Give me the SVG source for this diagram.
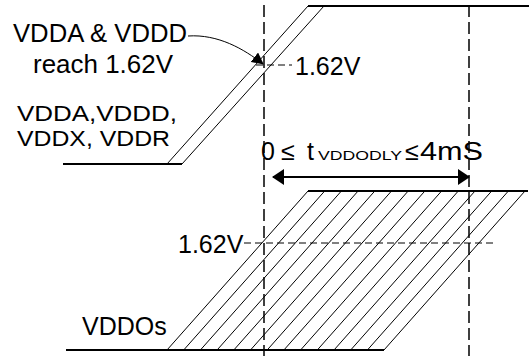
<svg xmlns="http://www.w3.org/2000/svg" width="529" height="356" viewBox="0 0 529 356">
  <style>
    .t { font-family: "Liberation Sans", Arial, sans-serif; font-size: 25px; fill: #000; }
    .t2 { font-family: "Liberation Sans", Arial, sans-serif; font-size: 22.5px; fill: #000; }
    .sub { font-family: "Liberation Sans", Arial, sans-serif; font-size: 13px; fill: #000; }
    .thin { stroke: #000; stroke-width: 1; fill: none; }
    .thick { stroke: #000; stroke-width: 2; fill: none; }
    .vdash { stroke: #000; stroke-width: 1.5; stroke-dasharray: 12 5; fill: none; }
    .hdash { stroke: #000; stroke-width: 1; stroke-dasharray: 7 4; fill: none; }
    .hatch line { stroke: #000; stroke-width: 1; }
  </style>
  <defs>
    <marker id="ah" markerWidth="12" markerHeight="12" refX="11" refY="6" orient="auto-start-reverse" markerUnits="userSpaceOnUse">
      <path d="M0,0 L12,6 L0,12 z" fill="#000"/>
    </marker>
    <marker id="ah2" markerWidth="12" markerHeight="16" refX="11" refY="8" orient="auto-start-reverse" markerUnits="userSpaceOnUse">
      <path d="M0,0 L12,8 L0,16 z" fill="#000"/>
    </marker>
  </defs>

  <g id="signal-vdda">
    <line class="thick" x1="63" y1="164" x2="182" y2="164"/>
    <line class="thin" x1="167" y1="164" x2="308" y2="6"/>
    <line class="thin" x1="182" y1="164" x2="324" y2="6"/>
    <line class="thick" x1="308" y1="6" x2="529" y2="6"/>
  </g>

  <g id="signal-vddo">
    <line class="thick" x1="66" y1="350" x2="384" y2="350"/>
    <line class="thick" x1="308" y1="191" x2="528" y2="191"/>
    <g class="hatch">
      <line x1="167" y1="350" x2="308" y2="191"/>
      <line x1="183.7" y1="350" x2="324.7" y2="191"/>
      <line x1="200.4" y1="350" x2="341.4" y2="191"/>
      <line x1="217.1" y1="350" x2="358.1" y2="191"/>
      <line x1="233.8" y1="350" x2="374.8" y2="191"/>
      <line x1="250.5" y1="350" x2="391.5" y2="191"/>
      <line x1="267.2" y1="350" x2="408.2" y2="191"/>
      <line x1="283.9" y1="350" x2="424.9" y2="191"/>
      <line x1="300.6" y1="350" x2="441.6" y2="191"/>
      <line x1="317.3" y1="350" x2="458.3" y2="191"/>
      <line x1="334" y1="350" x2="475" y2="191"/>
      <line x1="350.7" y1="350" x2="491.7" y2="191"/>
      <line x1="367.4" y1="350" x2="508.4" y2="191"/>
      <line x1="384" y1="350" x2="525" y2="191"/>
    </g>
  </g>

  <g id="connectors">
    <line class="vdash" x1="264" y1="5" x2="264" y2="356"/>
    <line class="vdash" x1="469" y1="5" x2="469" y2="356"/>
    <line class="hdash" x1="256" y1="65" x2="292" y2="65"/>
    <line class="hdash" x1="244" y1="243" x2="497" y2="243"/>
    <path class="thin" d="M188,36 C218,34 244,49 263,64" marker-end="url(#ah)"/>
    <line stroke="#000" stroke-width="2" x1="273" y1="177" x2="469" y2="177" marker-start="url(#ah2)" marker-end="url(#ah2)"/>
  </g>

  <g id="label-reach">
    <text class="t" x="100" y="42" text-anchor="middle" textLength="174" lengthAdjust="spacingAndGlyphs">VDDA &amp; VDDD</text>
    <text class="t" x="103" y="73" text-anchor="middle" textLength="140" lengthAdjust="spacingAndGlyphs">reach 1.62V</text>
  </g>
  <g id="label-vdda">
    <text class="t2" x="17" y="121" textLength="160" lengthAdjust="spacingAndGlyphs">VDDA,VDDD,</text>
    <text class="t2" x="17" y="146" textLength="153" lengthAdjust="spacingAndGlyphs">VDDX, VDDR</text>
  </g>
  <g id="label-162-top">
    <text class="t" x="295" y="75">1.62V</text>
  </g>
  <g id="label-162-bottom">
    <text class="t" x="178" y="253">1.62V</text>
  </g>
  <g id="label-vddo">
    <text class="t" x="82" y="335">VDDOs</text>
  </g>
  <g id="label-delay">
    <text class="t" x="261" y="160">0</text>
    <text class="t" x="281" y="160">≤</text>
    <text class="t" x="307" y="160">t</text>
    <text class="sub" x="318" y="160" textLength="84" lengthAdjust="spacingAndGlyphs">VDDODLY</text>
    <text class="t" x="405" y="160">≤</text>
    <text class="t" x="420" y="160" textLength="63" lengthAdjust="spacingAndGlyphs">4mS</text>
  </g>
</svg>
